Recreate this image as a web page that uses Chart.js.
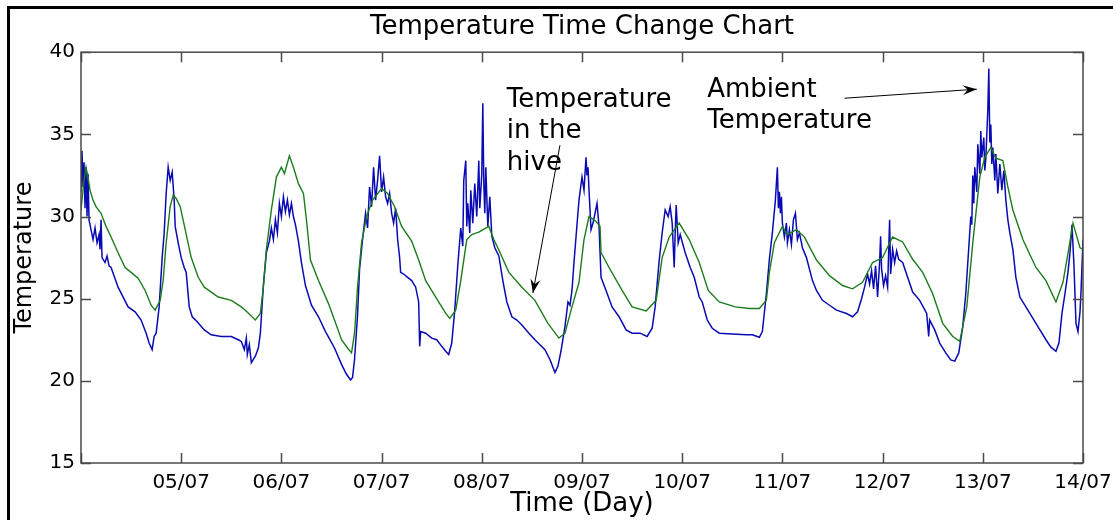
<!DOCTYPE html>
<html lang="en">
<head>
    <meta charset="UTF-8">
    <title>Temperature Time Change Chart</title>
    <script src="https://cdn.jsdelivr.net/npm/chart.js"></script>
    <style>
        body {
            margin: 0;
            background: #fff;
        }
        .wrap {
            position: relative;
            width: 1113px;
            height: 520px;
            overflow: hidden;
        }
        .frame {
            position: absolute;
            left: 7px;
            top: 6px;
            width: 1200px;
            height: 600px;
            border-left: 3px solid #000;
            border-top: 3px solid #000;
            pointer-events: none;
        }
    </style>
</head>
<body>
    <div class="wrap">
        <canvas id="tempChart"></canvas>
        <div class="frame"></div>
    </div>

    <script>
        // x = day of July, y = temperature
        const ambientDays = [
            4.00, 4.01, 4.02, 4.03, 4.04, 4.05, 4.06, 4.07, 4.08, 4.10, 4.12, 4.14, 4.16, 4.18, 4.19, 4.20, 4.21, 4.24, 4.26, 4.28,
            4.30, 4.37, 4.47, 4.54, 4.60, 4.65, 4.68, 4.71, 4.73, 4.75, 4.78, 4.81, 4.83, 4.85, 4.87, 4.89, 4.91, 4.93, 4.94, 4.97,
            5.00, 5.03, 5.05, 5.08, 5.11, 5.16, 5.23, 5.30, 5.40, 5.50, 5.57, 5.60, 5.63, 5.65, 5.66, 5.68, 5.70, 5.72, 5.74, 5.77,
            5.79, 5.82, 5.85, 5.88, 5.90, 5.92, 5.94, 5.96, 5.98, 6.00, 6.02, 6.04, 6.06, 6.08, 6.10, 6.12, 6.14, 6.17, 6.20, 6.24,
            6.30, 6.37, 6.44, 6.53, 6.60, 6.65, 6.69, 6.71, 6.73, 6.76, 6.78, 6.81, 6.84, 6.86, 6.88, 6.90, 6.92, 6.94, 6.96, 6.98,
            7.00, 7.02, 7.04, 7.06, 7.08, 7.10, 7.12, 7.14, 7.16, 7.18, 7.19, 7.22, 7.26, 7.30, 7.34, 7.37, 7.38, 7.39, 7.44, 7.50,
            7.55, 7.60, 7.64, 7.67, 7.70, 7.73, 7.76, 7.79, 7.81, 7.82, 7.84, 7.85, 7.86, 7.88, 7.89, 7.91, 7.93, 7.95, 7.97, 7.98,
            8.00, 8.01, 8.02, 8.03, 8.04, 8.06, 8.08, 8.10, 8.13, 8.17, 8.21, 8.25, 8.30, 8.35, 8.40, 8.47, 8.53, 8.58, 8.63, 8.68,
            8.73, 8.76, 8.79, 8.83, 8.86, 8.88, 8.90, 8.92, 8.95, 8.97, 9.00, 9.02, 9.04, 9.05, 9.06, 9.07, 9.08, 9.09, 9.11, 9.13,
            9.15, 9.17, 9.19, 9.24, 9.30, 9.37, 9.44, 9.50, 9.58, 9.65, 9.70, 9.73, 9.77, 9.80, 9.83, 9.86, 9.88, 9.90, 9.92, 9.93,
            9.94, 9.96, 9.98, 10.03, 10.08, 10.12, 10.17, 10.20, 10.25, 10.30, 10.37, 10.50, 10.64, 10.70, 10.77, 10.80, 10.84, 10.87, 10.90, 10.93,
            10.95, 10.96, 10.97, 10.98, 10.99, 11.00, 11.02, 11.04, 11.05, 11.07, 11.09, 11.11, 11.13, 11.15, 11.17, 11.20, 11.24, 11.30, 11.34, 11.40,
            11.47, 11.54, 11.64, 11.70, 11.75, 11.79, 11.82, 11.85, 11.87, 11.89, 11.91, 11.93, 11.95, 11.97, 11.98, 11.99, 12.01, 12.03, 12.05, 12.07,
            12.08, 12.10, 12.12, 12.14, 12.16, 12.20, 12.25, 12.30, 12.37, 12.44, 12.46, 12.47, 12.52, 12.57, 12.63, 12.68, 12.72, 12.76, 12.80, 12.83,
            12.86, 12.88, 12.89, 12.90, 12.91, 12.92, 12.94, 12.95, 12.97, 12.98, 12.99, 13.01, 13.02, 13.03, 13.05, 13.06, 13.07, 13.08, 13.09, 13.10,
            13.12, 13.13, 13.15, 13.17, 13.19, 13.21, 13.23, 13.25, 13.27, 13.30, 13.33, 13.37, 13.43, 13.50, 13.57, 13.63, 13.68, 13.73, 13.76, 13.79,
            13.82, 13.85, 13.87, 13.89, 13.91, 13.93, 13.95, 13.97, 13.98, 14.00
        ];
        const ambientTemps = [
            31.5, 34.0, 31.8, 33.3, 30.5, 33.0, 30.0, 32.6, 29.8, 29.2, 28.6, 29.3, 28.4, 28.9, 28.0, 29.8, 27.5, 27.2, 27.6, 27.0,
            26.9, 25.7, 24.5, 24.2, 23.7, 22.9, 22.3, 21.9, 22.7, 22.9, 24.5, 27.5, 29.0, 31.4, 33.0, 32.2, 32.7, 31.0, 29.4, 28.4,
            27.5, 26.9, 26.6, 24.5, 23.9, 23.6, 23.1, 22.8, 22.7, 22.7, 22.5, 22.4, 21.9, 22.6, 21.6, 22.2, 21.1, 21.3, 21.5, 22.0,
            22.9, 25.8, 27.8, 28.5, 29.3, 28.6, 29.8, 29.0, 30.8, 30.0, 31.2, 30.3, 31.0, 30.1, 30.8, 30.0, 29.5, 28.5, 27.2, 25.8,
            24.6, 23.9, 23.0, 22.0, 21.0, 20.4, 20.05, 20.2, 21.3, 24.0, 26.8, 28.6, 30.2, 29.3, 31.8, 30.6, 33.0, 31.0, 32.2, 33.7,
            31.5, 32.4, 31.2, 30.8, 31.4, 30.2, 29.6, 30.5, 28.6, 27.5, 26.6, 26.5, 26.3, 26.1, 25.7, 24.8, 22.1, 23.0, 22.9, 22.6,
            22.5, 22.1, 21.8, 21.6, 22.3, 24.3, 27.0, 29.3, 28.2, 32.2, 33.4, 29.4, 30.8, 29.0, 31.6, 29.6, 32.0, 30.0, 33.4, 30.5,
            32.6, 36.9, 32.0, 30.2, 33.0, 29.4, 31.2, 28.8, 28.1, 27.6, 26.1, 24.8, 23.9, 23.7, 23.4, 22.9, 22.5, 22.2, 21.9, 21.3,
            20.5, 20.9, 21.8, 23.3, 24.8, 24.6, 25.5, 27.2, 29.5, 31.0, 32.4, 31.6, 33.6, 32.5, 33.0, 31.6, 30.4, 29.2, 29.6, 30.2,
            30.8, 29.4, 26.3, 25.5, 24.5, 23.9, 23.1, 22.9, 22.9, 22.7, 23.2, 24.5, 27.3, 29.0, 30.4, 30.0, 30.6, 29.6, 26.9, 29.0,
            30.7, 28.4, 28.9, 27.8, 26.9, 26.3, 25.1, 24.8, 23.7, 23.2, 22.9, 22.85, 22.8, 22.8, 22.65, 23.0, 25.3, 27.4, 29.0, 31.0,
            33.0, 30.5, 31.5, 30.2, 31.2, 29.6, 28.75, 29.6, 28.4, 29.2, 28.3, 29.8, 30.2, 28.6, 29.0, 28.1, 27.5, 26.1, 25.5, 24.9,
            24.6, 24.3, 24.1, 23.9, 24.2, 25.0, 25.7, 26.5, 25.9, 26.7, 25.6, 27.0, 25.1, 27.2, 28.8, 26.8, 25.8, 26.4, 25.7, 29.8,
            26.5, 28.0, 27.2, 27.9, 27.4, 27.2, 26.3, 25.4, 24.9, 24.1, 22.7, 23.7, 23.1, 22.3, 21.7, 21.27, 21.2, 21.7, 23.3, 25.3,
            28.1, 30.0, 29.5, 32.5, 30.8, 33.0, 31.5, 34.4, 32.6, 35.2, 33.6, 34.8, 32.8, 33.5, 36.5, 39.0, 34.5, 35.6, 33.2, 34.2,
            32.2, 33.8, 31.4, 33.2, 31.6, 32.8, 31.0, 29.8, 29.0, 28.0, 26.3, 25.1, 24.5, 23.8, 23.1, 22.5, 22.05, 21.8, 22.3, 24.1,
            25.3, 26.6, 27.8, 29.5, 27.0, 23.5, 23.0, 24.2, 25.4, 28.6
        ];

        const hiveDays = [
            4.00, 4.03, 4.05, 4.07, 4.09, 4.12, 4.15, 4.20, 4.25, 4.30, 4.37, 4.44, 4.50, 4.57, 4.64, 4.70, 4.74, 4.79, 4.82, 4.85,
            4.89, 4.92, 4.95, 4.99, 5.04, 5.10, 5.17, 5.23, 5.37, 5.50, 5.60, 5.64, 5.74, 5.79, 5.82, 5.85, 5.90, 5.95, 6.00, 6.03,
            6.08, 6.12, 6.17, 6.22, 6.25, 6.29, 6.37, 6.47, 6.53, 6.60, 6.66, 6.70, 6.73, 6.76, 6.80, 6.85, 6.91, 7.00, 7.06, 7.13,
            7.20, 7.30, 7.37, 7.44, 7.54, 7.64, 7.68, 7.74, 7.79, 7.85, 7.90, 7.97, 8.07, 8.12, 8.17, 8.27, 8.40, 8.53, 8.66, 8.77,
            8.83, 8.90, 8.97, 9.02, 9.07, 9.14, 9.18, 9.19, 9.27, 9.40, 9.50, 9.64, 9.74, 9.80, 9.87, 9.97, 10.07, 10.17, 10.26, 10.37,
            10.53, 10.67, 10.77, 10.84, 10.87, 10.92, 11.00, 11.05, 11.14, 11.22, 11.34, 11.47, 11.60, 11.70, 11.80, 11.90, 12.00, 12.10, 12.20, 12.30,
            12.40, 12.50, 12.60, 12.70, 12.77, 12.84, 12.90, 12.97, 13.02, 13.08, 13.13, 13.20, 13.25, 13.30, 13.40, 13.53, 13.63, 13.73, 13.80, 13.86,
            13.90, 13.97, 14.00
        ];
        const hiveTemps = [
            30.4, 32.2, 33.0, 32.4, 31.6, 31.0, 30.6, 30.2, 29.4, 28.75, 27.8, 26.9, 26.6, 26.25, 25.5, 24.6, 24.3, 24.9, 26.1, 28.4,
            30.6, 31.3, 31.1, 30.6, 29.2, 27.5, 26.3, 25.7, 25.1, 24.9, 24.5, 24.3, 23.7, 24.1, 25.7, 28.0, 30.4, 32.4, 33.0, 32.6,
            33.7, 33.0, 32.0, 31.4, 29.8, 27.35, 26.1, 24.7, 23.7, 22.5, 22.0, 21.7, 22.9, 25.7, 28.4, 30.0, 31.0, 31.7, 31.4, 30.6,
            29.4, 28.5, 27.35, 26.1, 25.1, 24.1, 23.8, 24.3, 26.1, 28.6, 28.9, 29.05, 29.4, 28.6, 27.96, 26.6, 25.7, 24.9, 23.5, 22.6,
            22.9, 24.5, 26.0, 28.6, 30.0, 29.7, 29.4, 27.8, 26.9, 25.5, 24.5, 24.25, 24.9, 27.5, 28.75, 29.6, 28.6, 27.2, 25.5, 24.8,
            24.5, 24.4, 24.4, 24.9, 26.6, 28.4, 29.4, 28.9, 29.2, 28.75, 27.35, 26.4, 25.8, 25.6, 26.0, 27.2, 27.5, 28.75, 28.45, 27.4,
            26.6, 25.3, 23.5, 22.7, 22.4, 24.5, 28.4, 32.4, 33.6, 34.2, 33.55, 33.4, 31.8, 30.4, 28.6, 26.9, 26.1, 24.8, 26.0, 28.1,
            29.6, 28.1, 28.0
        ];

        const dayTicks = [4, 5, 6, 7, 8, 9, 10, 11, 12, 13, 14];
        const dayLabels = ['', '05/07', '06/07', '07/07', '08/07', '09/07', '10/07', '11/07', '12/07', '13/07', '14/07'];
        const tempTicks = [15, 20, 25, 30, 35, 40];

        // annotation text and arrows, placed in data units
        const notes = [
            { lines: ['Temperature', 'in the', 'hive'], day: 8.25, temp: [36.65, 34.77, 32.82] },
            { lines: ['Ambient', 'Temperature'], day: 10.25, temp: [37.26, 35.38] }
        ];
        const arrows = [
            { from: [8.78, 34.34], to: [8.51, 25.34] },
            { from: [11.62, 37.2], to: [12.94, 37.75] }
        ];

        const FONT = '"DejaVu Sans", "Liberation Sans", sans-serif';

        const toPoints = (xs, ys) => xs.map((x, i) => ({ x: x, y: ys[i] }));

        const boxTicks = {
            id: 'boxTicks',
            afterDraw(chart) {
                const { ctx, chartArea: a } = chart;
                const xs = chart.scales.x, ys = chart.scales.y;
                ctx.save();
                ctx.strokeStyle = '#4a4a4a';
                ctx.lineWidth = 1.5;
                ctx.strokeRect(a.left, a.top, a.right - a.left, a.bottom - a.top);
                ctx.beginPath();
                dayTicks.forEach(d => {
                    const px = Math.round(xs.getPixelForValue(d)) + 0.5;
                    ctx.moveTo(px, a.bottom); ctx.lineTo(px, a.bottom - 10);
                    ctx.moveTo(px, a.top); ctx.lineTo(px, a.top + 10);
                });
                tempTicks.forEach(t => {
                    const py = Math.round(ys.getPixelForValue(t)) + 0.5;
                    ctx.moveTo(a.left, py); ctx.lineTo(a.left + 10, py);
                    ctx.moveTo(a.right, py); ctx.lineTo(a.right - 10, py);
                });
                ctx.stroke();
                ctx.restore();
            }
        };

        const annotations = {
            id: 'annotations',
            afterDraw(chart) {
                const ctx = chart.ctx;
                const xs = chart.scales.x, ys = chart.scales.y;
                ctx.save();
                ctx.fillStyle = '#000';
                ctx.font = '26px ' + FONT;
                ctx.textBaseline = 'alphabetic';
                notes.forEach(n => {
                    n.lines.forEach((line, i) => {
                        ctx.fillText(line, xs.getPixelForValue(n.day), ys.getPixelForValue(n.temp[i]));
                    });
                });
                ctx.strokeStyle = '#000';
                ctx.lineWidth = 1;
                arrows.forEach(ar => {
                    const x1 = xs.getPixelForValue(ar.from[0]), y1 = ys.getPixelForValue(ar.from[1]);
                    const x2 = xs.getPixelForValue(ar.to[0]), y2 = ys.getPixelForValue(ar.to[1]);
                    const ang = Math.atan2(y2 - y1, x2 - x1);
                    ctx.beginPath();
                    ctx.moveTo(x1, y1);
                    ctx.lineTo(x2, y2);
                    ctx.stroke();
                    // arrow head
                    ctx.beginPath();
                    ctx.moveTo(x2, y2);
                    ctx.lineTo(x2 - 14 * Math.cos(ang) + 5 * Math.sin(ang), y2 - 14 * Math.sin(ang) - 5 * Math.cos(ang));
                    ctx.lineTo(x2 - 9 * Math.cos(ang), y2 - 9 * Math.sin(ang));
                    ctx.lineTo(x2 - 14 * Math.cos(ang) - 5 * Math.sin(ang), y2 - 14 * Math.sin(ang) + 5 * Math.cos(ang));
                    ctx.closePath();
                    ctx.fill();
                });
                ctx.restore();
            }
        };

        const ctx = document.getElementById('tempChart').getContext('2d');
        new Chart(ctx, {
            type: 'scatter',
            data: {
                datasets: [{
                    label: 'Temperature in the hive',
                    data: toPoints(hiveDays, hiveTemps),
                    showLine: true,
                    borderColor: '#1c7c1c',
                    borderWidth: 1.4,
                    pointRadius: 0,
                    tension: 0
                },
                {
                    label: 'Ambient Temperature',
                    data: toPoints(ambientDays, ambientTemps),
                    showLine: true,
                    borderColor: '#0a0ab4',
                    borderWidth: 1.5,
                    pointRadius: 0,
                    tension: 0
                }]
            },
            options: {
                responsive: true,
                maintainAspectRatio: false,
                animation: false,
                layout: {
                    padding: { left: 0, right: 30, top: 0, bottom: 0 }
                },
                plugins: {
                    legend: { display: false },
                    tooltip: { enabled: false },
                    title: {
                        display: true,
                        text: 'Temperature Time Change Chart',
                        fullSize: false,
                        color: '#000',
                        font: { family: FONT, size: 26, weight: 'normal' },
                        padding: { top: 12, bottom: 9 }
                    }
                },
                scales: {
                    x: {
                        type: 'linear',
                        min: 4,
                        max: 14,
                        grid: { display: false, drawTicks: false },
                        border: { display: false },
                        afterBuildTicks: scale => {
                            scale.ticks = dayTicks.map(v => ({ value: v }));
                        },
                        ticks: {
                            autoSkip: false,
                            maxRotation: 0,
                            padding: 8,
                            color: '#000',
                            font: { family: FONT, size: 20 },
                            callback: value => dayLabels[dayTicks.indexOf(value)]
                        },
                        title: {
                            display: true,
                            text: 'Time (Day)',
                            color: '#000',
                            font: { family: FONT, size: 26 },
                            padding: { top: 0, bottom: 0 }
                        },
                        afterFit: scale => {
                            scale.height = 57;
                            // let the last label hang into the right margin
                            scale.paddingLeft = 0;
                            scale.paddingRight = 0;
                        }
                    },
                    y: {
                        min: 15,
                        max: 40,
                        grid: { display: false, drawTicks: false },
                        border: { display: false },
                        afterBuildTicks: scale => {
                            scale.ticks = tempTicks.map(v => ({ value: v }));
                        },
                        ticks: {
                            padding: 6,
                            color: '#000',
                            font: { family: FONT, size: 20 }
                        },
                        title: {
                            display: true,
                            text: 'Temperature',
                            color: '#000',
                            font: { family: FONT, size: 24 },
                            padding: { top: 10, bottom: 0 }
                        },
                        afterFit: scale => { scale.width = 81; }
                    }
                }
            },
            plugins: [boxTicks, annotations]
        });
    </script>
</body>
</html>
